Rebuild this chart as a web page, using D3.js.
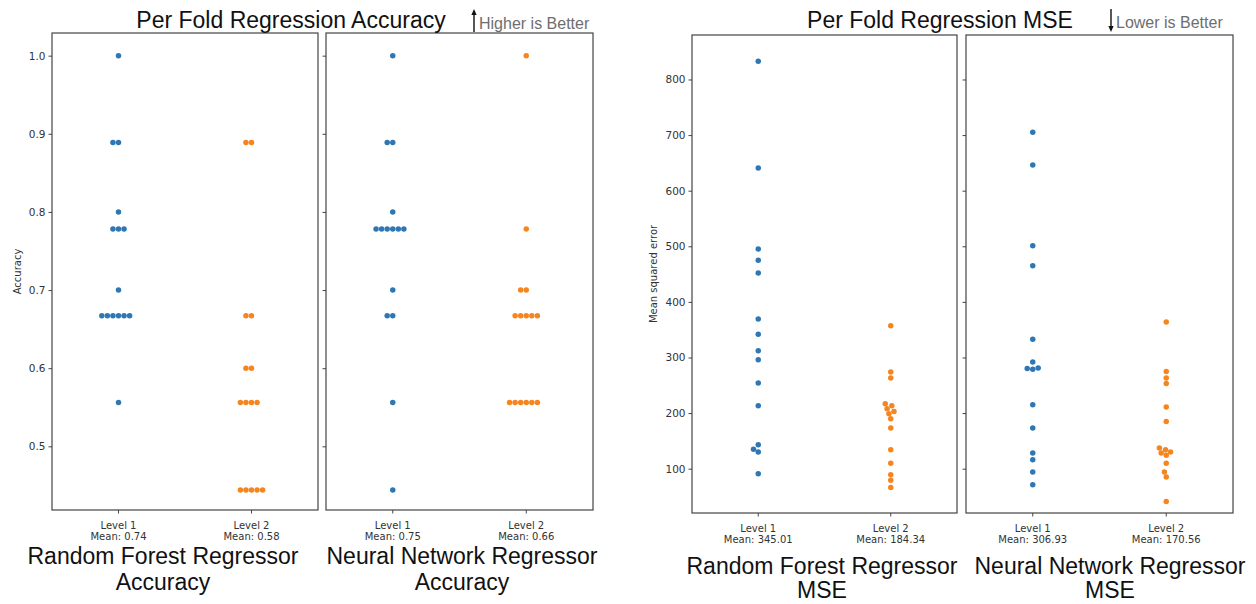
<!DOCTYPE html>
<html>
<head>
<meta charset="utf-8">
<script src="https://cdn.jsdelivr.net/npm/d3@7"></script>
<style>
  body { margin: 0; background: #fff; }
  svg { display: block; }
</style>
</head>
<body>
<script>
var levels = ['Level 1', 'Level 2'];

// accuracy per fold
var accRfLevel1 = [1.0, 0.889, 0.889, 0.8, 0.778, 0.778, 0.778, 0.7, 0.667, 0.667, 0.667, 0.667, 0.667, 0.667, 0.556];
var accRfLevel2 = [0.889, 0.889, 0.667, 0.667, 0.6, 0.6, 0.556, 0.556, 0.556, 0.556, 0.444, 0.444, 0.444, 0.444, 0.444];
var accNnLevel1 = [1.0, 0.889, 0.889, 0.8, 0.778, 0.778, 0.778, 0.778, 0.778, 0.778, 0.7, 0.667, 0.667, 0.556, 0.444];
var accNnLevel2 = [1.0, 0.778, 0.7, 0.7, 0.667, 0.667, 0.667, 0.667, 0.667, 0.556, 0.556, 0.556, 0.556, 0.556, 0.556];
var accRfMeans = ['0.74', '0.58'];
var accNnMeans = ['0.75', '0.66'];
var accTicks = [0.5, 0.6, 0.7, 0.8, 0.9, 1.0];

// mean squared error per fold
var mseRfLevel1 = [833, 641, 495, 475, 452, 369, 342, 312, 296, 254, 213, 143, 135, 130, 91];
var mseRfLevel2 = [357, 274, 263, 217, 213, 208, 203, 199, 190, 173, 134, 110, 89, 79, 66];
var mseNnLevel1 = [705, 646, 501, 465, 333, 292, 279, 280, 281, 215, 173, 128, 116, 94, 71];
var mseNnLevel2 = [364, 275, 263, 253, 211, 185, 137, 134, 130, 128, 124, 110, 94, 85, 41];
var mseRfMeans = ['345.01', '184.34'];
var mseNnMeans = ['306.93', '170.56'];
var mseTicks = [100, 200, 300, 400, 500, 600, 700, 800];

var colors = ['#2f77b4', '#f5861f'];
var dotR = 2.75;
var dotGap = 5.3;

var svg;

initializeChart();

function initializeChart() {
    svg = d3.select('body')
            .append('svg')
              .attr('width', 1256)
              .attr('height', 604);

    var accY = d3.scaleLinear().domain([0.4185, 1.029]).range([510, 33]);
    var mseY = d3.scaleLinear().domain([20.3, 880]).range([513, 35]);

    drawPanel({x0: 52, x1: 318, y: accY, series: [accRfLevel1, accRfLevel2], means: accRfMeans,
               ticks: accTicks, fmt: d3.format('.1f'), labels: true, ylabel: 'Accuracy', ylabelX: 17});
    drawPanel({x0: 326, x1: 593, y: accY, series: [accNnLevel1, accNnLevel2], means: accNnMeans,
               ticks: accTicks, fmt: d3.format('.1f'), labels: false});
    drawPanel({x0: 692, x1: 957, y: mseY, series: [mseRfLevel1, mseRfLevel2], means: mseRfMeans,
               ticks: mseTicks, fmt: d3.format('d'), labels: true, ylabel: 'Mean squared error', ylabelX: 653});
    drawPanel({x0: 966, x1: 1233, y: mseY, series: [mseNnLevel1, mseNnLevel2], means: mseNnMeans,
               ticks: mseTicks, fmt: d3.format('d'), labels: false});

    // titles
    bigText(291, 28, 'Per Fold Regression Accuracy', 'middle');
    bigText(940, 28, 'Per Fold Regression MSE', 'middle');
    note(474, 'up', 'Higher is Better', 29);
    note(1111, 'down', 'Lower is Better', 28);

    bigText(163, 564, 'Random Forest Regressor', 'middle');
    bigText(163, 590, 'Accuracy', 'middle');
    bigText(462, 564, 'Neural Network Regressor', 'middle');
    bigText(462, 590, 'Accuracy', 'middle');
    bigText(822, 574, 'Random Forest Regressor', 'middle');
    bigText(822, 598, 'MSE', 'middle');
    bigText(1110, 574, 'Neural Network Regressor', 'middle');
    bigText(1110, 598, 'MSE', 'middle');
}

function drawPanel(p) {
    var y = p.y;
    var y0 = y.range()[0], y1 = y.range()[1];
    var x = d3.scaleBand().domain(levels).range([p.x0, p.x1]).paddingInner(0).paddingOuter(0);
    var g = svg.append('g');

    // y axis
    var yAxis = d3.axisLeft(y).tickValues(p.ticks).tickSize(3.5).tickPadding(3)
                  .tickFormat(p.labels ? p.fmt : '');
    var ya = g.append('g').attr('transform', 'translate(' + p.x0 + ',0)').call(yAxis);
    ya.select('.domain').remove();
    ya.selectAll('line').attr('stroke', '#444');
    ya.selectAll('text').attr('fill', '#333').style('font', '10.5px "DejaVu Sans"');

    // x axis
    var xAxis = d3.axisBottom(x).tickSize(3.5).tickFormat('');
    var xa = g.append('g').attr('transform', 'translate(0,' + y0 + ')').call(xAxis);
    xa.select('.domain').remove();
    xa.selectAll('line').attr('stroke', '#444');
    levels.forEach(function(lv, i) {
        var t = g.append('text')
                 .attr('x', x(lv) + x.bandwidth() / 2)
                 .attr('y', y0 + 19)
                 .attr('text-anchor', 'middle')
                 .attr('fill', '#333')
                 .style('font', '10px "DejaVu Sans"');
        t.append('tspan').attr('x', x(lv) + x.bandwidth() / 2).text(lv);
        t.append('tspan').attr('x', x(lv) + x.bandwidth() / 2).attr('dy', 11).text('Mean: ' + p.means[i]);
    });

    if (p.ylabel) {
        g.append('text')
          .attr('transform', 'translate(' + p.ylabelX + ',' + ((y0 + y1) / 2) + ') rotate(-90)')
          .attr('text-anchor', 'middle')
          .attr('dy', '0.35em')
          .attr('fill', '#333')
          .style('font', '10px "DejaVu Sans"')
          .text(p.ylabel);
    }

    // swarm dots
    p.series.forEach(function(vals, i) {
        var cx = x(levels[i]) + x.bandwidth() / 2;
        var pts = swarm(vals, y);
        g.selectAll('circle.s' + i)
          .data(pts)
          .enter()
          .append('circle')
            .attr('class', 's' + i)
            .attr('cx', function(d) { return cx + d.dx; })
            .attr('cy', function(d) { return d.py; })
            .attr('r', dotR)
            .attr('fill', colors[i]);
    });

    // frame
    g.append('rect')
      .attr('x', p.x0).attr('y', y1)
      .attr('width', p.x1 - p.x0).attr('height', y0 - y1)
      .attr('fill', 'none')
      .attr('stroke', '#444')
      .attr('stroke-width', 1.2);
}

// beeswarm placement like seaborn: bottom point first, nearest free slot, left before right
function swarm(vals, y) {
    var pts = vals.map(function(v) { return {v: v, py: y(v), dx: 0}; });
    pts.sort(function(a, b) { return b.py - a.py; });
    var placed = [];
    pts.forEach(function(pt) {
        var nb = placed.filter(function(q) { return Math.abs(q.py - pt.py) < dotGap; });
        var cands = [0];
        var leftFirst = true;
        nb.forEach(function(q) {
            var dy = pt.py - q.py;
            var dx = Math.sqrt(Math.max(dotGap * dotGap - dy * dy, 0)) * 1.05;
            if (leftFirst) cands.push(q.dx - dx, q.dx + dx);
            else cands.push(q.dx + dx, q.dx - dx);
            leftFirst = !leftFirst;
        });
        var order = cands.map(function(c, k) { return {c: c, k: k}; })
                         .sort(function(a, b) { return (Math.abs(a.c) - Math.abs(b.c)) || (a.k - b.k); });
        for (var j = 0; j < order.length; j++) {
            var c = order[j].c;
            var ok = nb.every(function(q) {
                var ddx = q.dx - c, ddy = q.py - pt.py;
                return ddx * ddx + ddy * ddy >= dotGap * dotGap * 0.999;
            });
            if (ok) { pt.dx = c; break; }
        }
        placed.push(pt);
    });
    return pts;
}

function bigText(xp, yp, str, anchor) {
    svg.append('text')
      .attr('x', xp).attr('y', yp)
      .attr('text-anchor', anchor)
      .attr('fill', '#111')
      .style('font', '23px "Liberation Sans", Arial, sans-serif')
      .text(str);
}

function note(xp, dir, str, base) {
    var top = 9, bottom = 32;
    svg.append('line')
      .attr('x1', xp).attr('x2', xp)
      .attr('y1', dir === 'up' ? bottom : top)
      .attr('y2', dir === 'up' ? top + 3 : bottom - 3)
      .attr('stroke', '#111')
      .attr('stroke-width', 1.4);
    var tip = dir === 'up' ? top : bottom;
    var s = dir === 'up' ? 1 : -1;
    svg.append('path')
      .attr('d', 'M' + xp + ',' + tip + 'L' + (xp - 2.6) + ',' + (tip + 6 * s) + 'L' + (xp + 2.6) + ',' + (tip + 6 * s) + 'Z')
      .attr('fill', '#111');
    svg.append('text')
      .attr('x', xp + 5).attr('y', base)
      .attr('fill', '#6e6e6e')
      .style('font', '16px "Liberation Sans", Arial, sans-serif')
      .text(str);
}
</script>
</body>
</html>
